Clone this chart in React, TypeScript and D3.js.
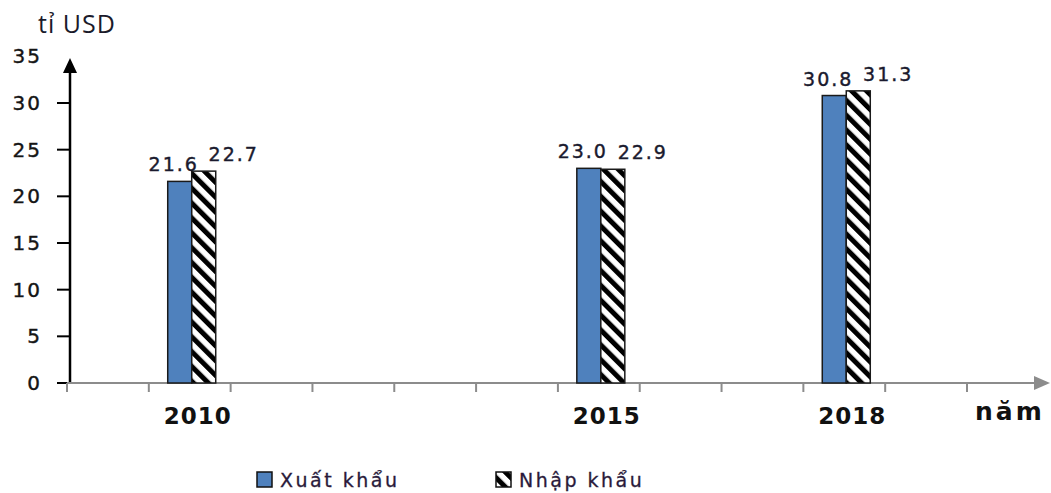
import React, { useEffect, useRef } from 'react';
import * as d3 from 'd3';

// years on the axis (one slot per year, only data years are labelled)
const axisYears = d3.range(2009, 2020);
const years = [2010, 2015, 2018];
const seriesNames = ['Xuất khẩu', 'Nhập khẩu'];
const exportValues = [21.6, 23.0, 30.8];
const importValues = [22.7, 22.9, 31.3];
const yTicks = [0, 5, 10, 15, 20, 25, 30, 35];

const W = 1051;
const H = 493;

const App: React.FC = () => {
  const ref = useRef<SVGSVGElement | null>(null);

  useEffect(() => {
    if (!ref.current) return;
    const svg = d3.select(ref.current);
    svg.selectAll('*').remove();

    const x0 = 67;
    const x1 = 967;
    const yBottom = 383;

    const x = d3.scaleBand<number>().domain(axisYears).range([x0, x1]).padding(0);
    const y = d3.scaleLinear().domain([0, 30]).range([yBottom, 103]);
    const bw = x.bandwidth();
    const inner = d3.scaleBand<string>().domain(seriesNames).range([bw / 2 - 22, bw / 2 + 26]);

    const defs = svg.append('defs');
    const pat = defs
      .append('pattern')
      .attr('id', 'hatch')
      .attr('patternUnits', 'userSpaceOnUse')
      .attr('width', 10.5)
      .attr('height', 10.5)
      .attr('patternTransform', 'rotate(-45)');
    pat.append('rect').attr('width', 10.5).attr('height', 10.5).attr('fill', '#fff');
    pat.append('rect').attr('x', 0).attr('width', 5).attr('height', 10.5).attr('fill', '#000');

    const numFont = '"DejaVu Sans", Verdana, sans-serif';

    // y axis
    svg
      .append('line')
      .attr('x1', x0 + 3)
      .attr('x2', x0 + 3)
      .attr('y1', yBottom)
      .attr('y2', 68)
      .attr('stroke', '#000')
      .attr('stroke-width', 2.5);
    svg
      .append('path')
      .attr('d', `M${x0 + 3},58 L${x0 - 4},73 L${x0 + 10},73 Z`)
      .attr('fill', '#000');

    svg
      .selectAll('.ytick')
      .data(yTicks.filter((t) => t <= 30))
      .enter()
      .append('line')
      .attr('x1', 57)
      .attr('x2', x0 + 3)
      .attr('y1', (d) => y(d))
      .attr('y2', (d) => y(d))
      .attr('stroke', '#000')
      .attr('stroke-width', 2);

    svg
      .selectAll('.ylab')
      .data(yTicks)
      .enter()
      .append('text')
      .attr('x', 42)
      .attr('y', (d) => y(d) + 7)
      .attr('text-anchor', 'end')
      .style('font-family', numFont)
      .style('font-size', '20px')
      .style('letter-spacing', '2px')
      .attr('fill', '#151515')
      .attr('stroke', '#151515')
      .attr('stroke-width', 0.4)
      .text((d) => d);

    // x axis
    svg
      .append('line')
      .attr('x1', x0)
      .attr('x2', 1038)
      .attr('y1', yBottom)
      .attr('y2', yBottom)
      .attr('stroke', '#8c8c8c')
      .attr('stroke-width', 2);
    svg
      .append('path')
      .attr('d', `M1050,${yBottom} L1034,${yBottom - 7} L1034,${yBottom + 7} Z`)
      .attr('fill', '#8c8c8c');

    const tickXs = axisYears.map((yr) => x(yr) as number).concat([x1]);
    svg
      .selectAll('.xtick')
      .data(tickXs)
      .enter()
      .append('line')
      .attr('x1', (d) => d)
      .attr('x2', (d) => d)
      .attr('y1', yBottom)
      .attr('y2', yBottom + 9)
      .attr('stroke', '#8c8c8c')
      .attr('stroke-width', 2);

    svg
      .selectAll('.xlab')
      .data(years)
      .enter()
      .append('text')
      .attr('x', (d) => (x(d) as number) + bw / 2 + 8)
      .attr('y', yBottom + 41)
      .attr('text-anchor', 'middle')
      .style('font-family', numFont)
      .style('font-size', '23px')
      .style('font-weight', 'bold')
      .style('letter-spacing', '1px')
      .attr('fill', '#111')
      .text((d) => d);

    svg
      .append('text')
      .attr('x', 975)
      .attr('y', 420)
      .style('font-family', numFont)
      .style('font-size', '25px')
      .style('font-weight', 'bold')
      .style('letter-spacing', '3px')
      .attr('fill', '#111')
      .text('năm');

    svg
      .append('text')
      .attr('x', 38)
      .attr('y', 33)
      .style('font-family', '"Open Sans", sans-serif')
      .style('font-size', '25px')
      .style('letter-spacing', '1px')
      .attr('fill', '#1a1a2a')
      .text('tỉ USD');

    // bars
    const series = [
      { name: seriesNames[0], values: exportValues, fill: '#4f81bd', dx: -6 },
      { name: seriesNames[1], values: importValues, fill: 'url(#hatch)', dx: 30 },
    ];

    series.forEach((s) => {
      const g = svg.append('g');
      g.selectAll('rect')
        .data(years)
        .enter()
        .append('rect')
        .attr('x', (d) => (x(d) as number) + (inner(s.name) as number))
        .attr('y', (d, i) => y(s.values[i]))
        .attr('width', inner.bandwidth())
        .attr('height', (d, i) => yBottom - y(s.values[i]))
        .attr('fill', s.fill)
        .attr('stroke', '#1a1a1a')
        .attr('stroke-width', 1.5);

      g.selectAll('text')
        .data(years)
        .enter()
        .append('text')
        .attr('x', (d) => (x(d) as number) + (inner(s.name) as number) + inner.bandwidth() / 2 + s.dx)
        .attr('y', (d, i) => y(s.values[i]) - 10)
        .attr('text-anchor', 'middle')
        .style('font-family', numFont)
        .style('font-size', '19px')
        .style('letter-spacing', '2px')
        .attr('fill', '#1a1a2e')
        .attr('stroke', '#1a1a2e')
        .attr('stroke-width', 0.4)
        .text((d, i) => s.values[i].toFixed(1));
    });

    // legend
    const legendX = [257, 496];
    series.forEach((s, i) => {
      svg
        .append('rect')
        .attr('x', legendX[i])
        .attr('y', 472)
        .attr('width', 15)
        .attr('height', 15)
        .attr('fill', s.fill)
        .attr('stroke', '#111')
        .attr('stroke-width', 1.5);
      svg
        .append('text')
        .attr('x', legendX[i] + 23)
        .attr('y', 487)
        .style('font-family', numFont)
        .style('font-size', '19px')
        .style('letter-spacing', '2.5px')
        .attr('fill', '#2a1a3a')
        .attr('stroke', '#2a1a3a')
        .attr('stroke-width', 0.3)
        .text(s.name);
    });
  }, []);

  return (
    <svg
      ref={ref}
      width={W}
      height={H}
      style={{ position: 'absolute', left: 0, top: 0, background: '#fff' }}
    />
  );
};

export default App;
